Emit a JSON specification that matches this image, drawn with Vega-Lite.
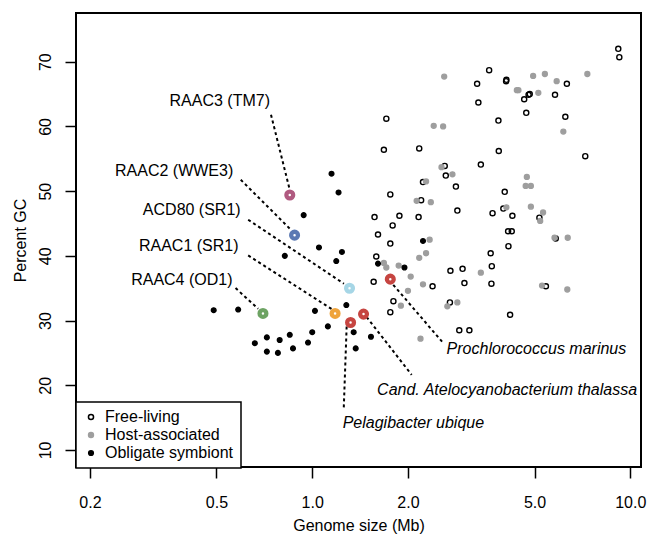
{
  "$schema": "https://vega.github.io/schema/vega-lite/v6.json",
  "width": 565,
  "height": 454,
  "autosize": {"type": "none"},
  "padding": {"left": 76, "top": 13, "right": 9, "bottom": 68},
  "background": "white",
  "config": {
    "font": "Liberation Sans",
    "view": {"stroke": "black", "strokeWidth": 2},
    "axis": {"domain": false, "grid": false, "ticks": true, "tickColor": "black", "tickWidth": 1.5, "tickSize": 11, "labelFontSize": 16, "labelColor": "black", "titleFontSize": 16, "titleFontWeight": "normal", "titleColor": "black", "labelFont": "Liberation Sans", "titleFont": "Liberation Sans"},
    "legend": {"orient": "none", "legendX": 0, "legendY": 389, "strokeColor": "black", "strokeWidth": 1.5, "fillColor": "white", "padding": 7, "labelFontSize": 16, "labelFont": "Liberation Sans", "labelColor": "black", "rowPadding": 2, "symbolOffset": 0, "labelOffset": 6}
  },
  "datasets": {
    "pts": [
      {"x": 9.17, "y": 72.0, "type": "Free-living"},
      {"x": 9.24, "y": 70.7, "type": "Free-living"},
      {"x": 3.60, "y": 68.7, "type": "Free-living"},
      {"x": 3.30, "y": 66.6, "type": "Free-living"},
      {"x": 4.08, "y": 67.2, "type": "Free-living"},
      {"x": 4.07, "y": 67.0, "type": "Free-living"},
      {"x": 6.32, "y": 66.6, "type": "Free-living"},
      {"x": 4.79, "y": 64.9, "type": "Free-living"},
      {"x": 4.83, "y": 65.0, "type": "Free-living"},
      {"x": 4.64, "y": 64.2, "type": "Free-living"},
      {"x": 5.80, "y": 64.9, "type": "Free-living"},
      {"x": 3.33, "y": 63.7, "type": "Free-living"},
      {"x": 4.71, "y": 62.1, "type": "Free-living"},
      {"x": 6.25, "y": 61.5, "type": "Free-living"},
      {"x": 3.85, "y": 60.9, "type": "Free-living"},
      {"x": 1.71, "y": 61.2, "type": "Free-living"},
      {"x": 1.68, "y": 56.4, "type": "Free-living"},
      {"x": 2.17, "y": 56.6, "type": "Free-living"},
      {"x": 3.86, "y": 56.2, "type": "Free-living"},
      {"x": 7.22, "y": 55.4, "type": "Free-living"},
      {"x": 2.61, "y": 53.9, "type": "Free-living"},
      {"x": 2.63, "y": 52.4, "type": "Free-living"},
      {"x": 3.39, "y": 54.1, "type": "Free-living"},
      {"x": 2.23, "y": 51.4, "type": "Free-living"},
      {"x": 2.83, "y": 50.7, "type": "Free-living"},
      {"x": 1.76, "y": 49.5, "type": "Free-living"},
      {"x": 4.03, "y": 49.9, "type": "Free-living"},
      {"x": 2.20, "y": 48.6, "type": "Free-living"},
      {"x": 2.86, "y": 47.0, "type": "Free-living"},
      {"x": 3.69, "y": 46.6, "type": "Free-living"},
      {"x": 3.99, "y": 47.3, "type": "Free-living"},
      {"x": 4.26, "y": 46.2, "type": "Free-living"},
      {"x": 5.18, "y": 45.9, "type": "Free-living"},
      {"x": 1.57, "y": 46.0, "type": "Free-living"},
      {"x": 1.88, "y": 46.2, "type": "Free-living"},
      {"x": 2.16, "y": 46.0, "type": "Free-living"},
      {"x": 1.79, "y": 44.7, "type": "Free-living"},
      {"x": 1.61, "y": 43.3, "type": "Free-living"},
      {"x": 1.76, "y": 41.9, "type": "Free-living"},
      {"x": 4.13, "y": 43.8, "type": "Free-living"},
      {"x": 4.24, "y": 43.8, "type": "Free-living"},
      {"x": 4.14, "y": 41.5, "type": "Free-living"},
      {"x": 5.83, "y": 42.7, "type": "Free-living"},
      {"x": 3.64, "y": 40.4, "type": "Free-living"},
      {"x": 3.67, "y": 38.4, "type": "Free-living"},
      {"x": 2.97, "y": 38.0, "type": "Free-living"},
      {"x": 2.72, "y": 37.7, "type": "Free-living"},
      {"x": 3.01, "y": 35.8, "type": "Free-living"},
      {"x": 3.66, "y": 35.7, "type": "Free-living"},
      {"x": 2.39, "y": 35.3, "type": "Free-living"},
      {"x": 1.56, "y": 36.0, "type": "Free-living"},
      {"x": 1.59, "y": 39.9, "type": "Free-living"},
      {"x": 1.80, "y": 33.0, "type": "Free-living"},
      {"x": 1.76, "y": 31.3, "type": "Free-living"},
      {"x": 2.71, "y": 32.8, "type": "Free-living"},
      {"x": 4.19, "y": 30.9, "type": "Free-living"},
      {"x": 2.90, "y": 28.5, "type": "Free-living"},
      {"x": 3.12, "y": 28.5, "type": "Free-living"},
      {"x": 5.43, "y": 35.3, "type": "Free-living"},
      {"x": 2.60, "y": 67.7, "type": "Host-associated"},
      {"x": 4.95, "y": 67.8, "type": "Host-associated"},
      {"x": 5.39, "y": 68.1, "type": "Host-associated"},
      {"x": 5.87, "y": 67.0, "type": "Host-associated"},
      {"x": 7.33, "y": 68.1, "type": "Host-associated"},
      {"x": 4.40, "y": 65.6, "type": "Host-associated"},
      {"x": 4.45, "y": 65.6, "type": "Host-associated"},
      {"x": 5.14, "y": 65.2, "type": "Host-associated"},
      {"x": 6.16, "y": 59.2, "type": "Host-associated"},
      {"x": 2.41, "y": 60.1, "type": "Host-associated"},
      {"x": 2.58, "y": 60.0, "type": "Host-associated"},
      {"x": 2.55, "y": 53.7, "type": "Host-associated"},
      {"x": 2.76, "y": 52.6, "type": "Host-associated"},
      {"x": 4.73, "y": 52.2, "type": "Host-associated"},
      {"x": 2.28, "y": 51.5, "type": "Host-associated"},
      {"x": 4.69, "y": 50.8, "type": "Host-associated"},
      {"x": 4.87, "y": 50.8, "type": "Host-associated"},
      {"x": 2.13, "y": 48.5, "type": "Host-associated"},
      {"x": 2.36, "y": 48.3, "type": "Host-associated"},
      {"x": 4.08, "y": 47.5, "type": "Host-associated"},
      {"x": 4.87, "y": 47.6, "type": "Host-associated"},
      {"x": 5.32, "y": 46.7, "type": "Host-associated"},
      {"x": 5.21, "y": 45.4, "type": "Host-associated"},
      {"x": 2.34, "y": 42.5, "type": "Host-associated"},
      {"x": 2.28, "y": 40.4, "type": "Host-associated"},
      {"x": 2.17, "y": 39.7, "type": "Host-associated"},
      {"x": 5.78, "y": 42.8, "type": "Host-associated"},
      {"x": 6.36, "y": 42.8, "type": "Host-associated"},
      {"x": 3.39, "y": 37.4, "type": "Host-associated"},
      {"x": 2.23, "y": 35.6, "type": "Host-associated"},
      {"x": 2.04, "y": 36.8, "type": "Host-associated"},
      {"x": 2.00, "y": 34.6, "type": "Host-associated"},
      {"x": 1.68, "y": 38.9, "type": "Host-associated"},
      {"x": 1.71, "y": 38.2, "type": "Host-associated"},
      {"x": 1.87, "y": 38.5, "type": "Host-associated"},
      {"x": 1.90, "y": 32.3, "type": "Host-associated"},
      {"x": 2.66, "y": 32.2, "type": "Host-associated"},
      {"x": 2.86, "y": 32.8, "type": "Host-associated"},
      {"x": 2.19, "y": 27.2, "type": "Host-associated"},
      {"x": 5.28, "y": 35.4, "type": "Host-associated"},
      {"x": 6.34, "y": 34.8, "type": "Host-associated"},
      {"x": 1.15, "y": 52.7, "type": "Obligate symbiont"},
      {"x": 1.21, "y": 49.8, "type": "Obligate symbiont"},
      {"x": 0.94, "y": 46.3, "type": "Obligate symbiont"},
      {"x": 1.05, "y": 41.3, "type": "Obligate symbiont"},
      {"x": 1.24, "y": 40.6, "type": "Obligate symbiont"},
      {"x": 0.82, "y": 40.0, "type": "Obligate symbiont"},
      {"x": 1.19, "y": 39.2, "type": "Obligate symbiont"},
      {"x": 0.49, "y": 31.6, "type": "Obligate symbiont"},
      {"x": 0.585, "y": 31.7, "type": "Obligate symbiont"},
      {"x": 1.02, "y": 31.5, "type": "Obligate symbiont"},
      {"x": 1.28, "y": 32.4, "type": "Obligate symbiont"},
      {"x": 1.12, "y": 29.1, "type": "Obligate symbiont"},
      {"x": 1.00, "y": 28.2, "type": "Obligate symbiont"},
      {"x": 0.85, "y": 27.8, "type": "Obligate symbiont"},
      {"x": 0.79, "y": 27.0, "type": "Obligate symbiont"},
      {"x": 0.72, "y": 27.4, "type": "Obligate symbiont"},
      {"x": 0.66, "y": 26.5, "type": "Obligate symbiont"},
      {"x": 0.97, "y": 26.6, "type": "Obligate symbiont"},
      {"x": 0.87, "y": 25.7, "type": "Obligate symbiont"},
      {"x": 0.78, "y": 25.0, "type": "Obligate symbiont"},
      {"x": 0.72, "y": 25.2, "type": "Obligate symbiont"},
      {"x": 1.35, "y": 28.2, "type": "Obligate symbiont"},
      {"x": 1.53, "y": 27.5, "type": "Obligate symbiont"},
      {"x": 1.37, "y": 25.7, "type": "Obligate symbiont"},
      {"x": 2.23, "y": 42.3, "type": "Obligate symbiont"},
      {"x": 1.61, "y": 38.8, "type": "Obligate symbiont"},
      {"x": 1.95, "y": 38.2, "type": "Obligate symbiont"}
    ],
    "lines": [
      {"x": 0.742, "y": 61.81, "x2": 0.847, "y2": 50.48},
      {"x": 0.596, "y": 51.76, "x2": 0.861, "y2": 43.93},
      {"x": 0.629, "y": 45.58, "x2": 1.258, "y2": 35.69},
      {"x": 0.629, "y": 40.06, "x2": 1.151, "y2": 31.78},
      {"x": 0.574, "y": 35.02, "x2": 0.676, "y2": 31.82},
      {"x": 1.283, "y": 29.09, "x2": 1.256, "y2": 16.21},
      {"x": 1.483, "y": 30.54, "x2": 2.054, "y2": 21.62},
      {"x": 1.798, "y": 35.53, "x2": 2.582, "y2": 26.52}
    ],
    "rings": [
      {"x": 0.85, "y": 49.4, "name": "RAAC3 (TM7)"},
      {"x": 0.88, "y": 43.2, "name": "RAAC2 (WWE3)"},
      {"x": 1.31, "y": 35.0, "name": "ACD80 (SR1)"},
      {"x": 1.18, "y": 31.1, "name": "RAAC1 (SR1)"},
      {"x": 0.70, "y": 31.1, "name": "RAAC4 (OD1)"},
      {"x": 1.32, "y": 29.7, "name": "Pelagibacter ubique"},
      {"x": 1.45, "y": 31.0, "name": "Cand. Atelocyanobacterium thalassa"},
      {"x": 1.76, "y": 36.4, "name": "Prochlorococcus marinus"}
    ],
    "labels": [
      {"x": 0.512, "y": 63.97, "label": "RAAC3 (TM7)"},
      {"x": 0.368, "y": 53.08, "label": "RAAC2 (WWE3)"},
      {"x": 0.418, "y": 47.1, "label": "ACD80 (SR1)"},
      {"x": 0.409, "y": 41.56, "label": "RAAC1 (SR1)"},
      {"x": 0.389, "y": 36.3, "label": "RAAC4 (OD1)"}
    ],
    "species": [
      {"x": 5.07, "y": 25.62, "label": "Prochlorococcus marinus"},
      {"x": 4.10, "y": 19.28, "label": "Cand. Atelocyanobacterium thalassa"},
      {"x": 2.08, "y": 14.18, "label": "Pelagibacter ubique"}
    ]
  },
  "layer": [
    {
      "data": {"name": "pts"},
      "mark": {"type": "point", "shape": "circle", "filled": true, "strokeWidth": 1.4, "opacity": 1},
      "encoding": {
        "x": {"field": "x", "type": "quantitative", "scale": {"type": "log", "domain": [0.1808, 10.81], "nice": false}, "axis": {"values": [0.2, 0.5, 1, 2, 5, 10], "format": ".1f", "title": "Genome size (Mb)", "labelPadding": 16, "labelFlush": false, "labelOverlap": false, "titleY": 63, "titleBaseline": "alphabetic"}},
        "y": {"field": "y", "type": "quantitative", "scale": {"domain": [7.37, 77.53], "nice": false, "zero": false}, "axis": {"values": [10, 20, 30, 40, 50, 60, 70], "labelAngle": 270, "labelAlign": "center", "labelBaseline": "alphabetic", "labelPadding": 15, "labelFlush": false, "labelOverlap": false, "title": "Percent GC", "titleX": -51, "titleY": 227, "titleAngle": 270, "titleAlign": "center", "titleBaseline": "alphabetic"}},
        "fill": {"field": "type", "type": "nominal", "scale": {"domain": ["Free-living", "Host-associated", "Obligate symbiont"], "range": ["transparent", "#9e9e9e", "black"]}, "legend": {"title": null, "orient": "none", "legendX": 0, "legendY": 389}},
        "stroke": {"field": "type", "type": "nominal", "scale": {"domain": ["Free-living", "Host-associated", "Obligate symbiont"], "range": ["black", "#9e9e9e", "black"]}, "legend": {"title": null, "orient": "none", "legendX": 0, "legendY": 389}},
        "size": {"field": "type", "type": "nominal", "scale": {"domain": ["Free-living", "Host-associated", "Obligate symbiont"], "range": [26, 22, 38]}, "legend": {"title": null, "orient": "none", "legendX": 0, "legendY": 389}}
      }
    },
    {
      "data": {"name": "lines"},
      "mark": {"type": "rule", "strokeDash": [3, 3], "strokeWidth": 2, "color": "black"},
      "encoding": {
        "x": {"field": "x", "type": "quantitative"},
        "y": {"field": "y", "type": "quantitative"},
        "x2": {"field": "x2"},
        "y2": {"field": "y2"}
      }
    },
    {
      "data": {"name": "rings"},
      "mark": {"type": "point", "shape": "circle", "filled": false, "strokeWidth": 4.3, "size": 46, "opacity": 1},
      "encoding": {
        "x": {"field": "x", "type": "quantitative"},
        "y": {"field": "y", "type": "quantitative"},
        "color": {"field": "name", "type": "nominal", "scale": {"domain": ["RAAC3 (TM7)", "RAAC2 (WWE3)", "ACD80 (SR1)", "RAAC1 (SR1)", "RAAC4 (OD1)", "Pelagibacter ubique", "Cand. Atelocyanobacterium thalassa", "Prochlorococcus marinus"], "range": ["#B05A80", "#5B79B3", "#A6D6E6", "#EFA43C", "#6DA363", "#C64541", "#C64541", "#C64541"]}, "legend": null}
      }
    },
    {
      "data": {"name": "labels"},
      "mark": {"type": "text", "fontSize": 16, "align": "center", "baseline": "middle", "color": "black", "font": "Liberation Sans"},
      "encoding": {
        "x": {"field": "x", "type": "quantitative"},
        "y": {"field": "y", "type": "quantitative"},
        "text": {"field": "label"}
      }
    },
    {
      "data": {"name": "species"},
      "mark": {"type": "text", "fontSize": 16, "fontStyle": "italic", "align": "center", "baseline": "middle", "color": "black", "font": "Liberation Sans"},
      "encoding": {
        "x": {"field": "x", "type": "quantitative"},
        "y": {"field": "y", "type": "quantitative"},
        "text": {"field": "label"}
      }
    }
  ]
}
